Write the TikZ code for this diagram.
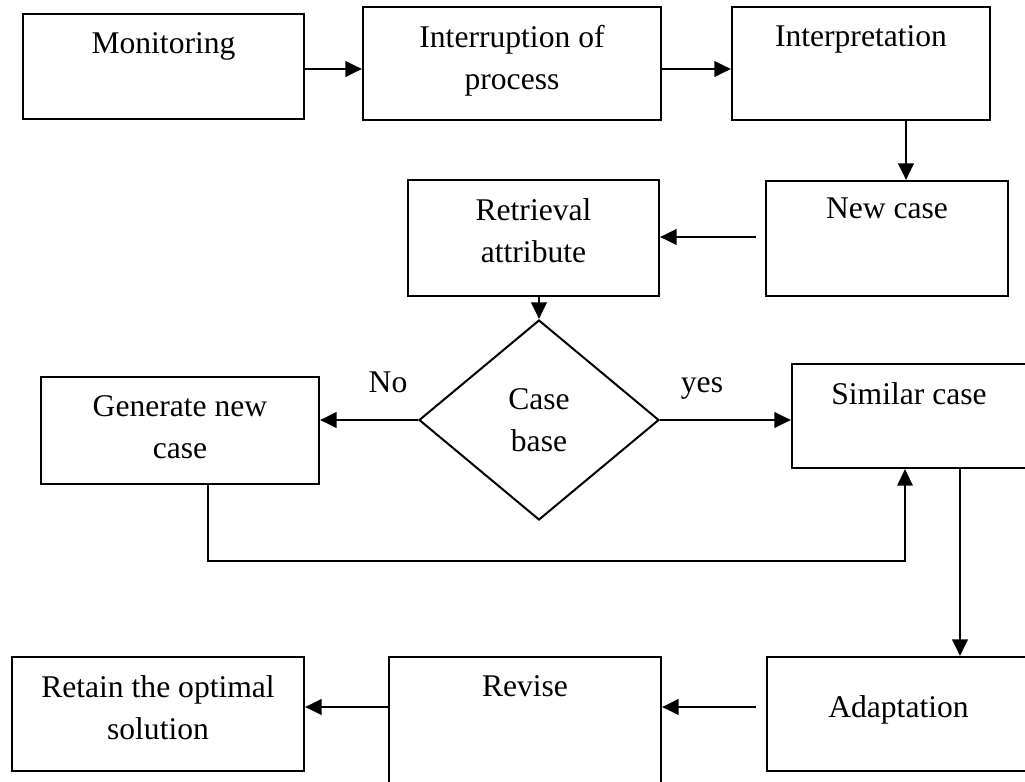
\documentclass[tikz,border=0pt]{standalone}
\usepackage{fontspec}
\setmainfont{Liberation Serif}
\usetikzlibrary{arrows.meta,shapes.geometric,calc}
\begin{document}
\begin{tikzpicture}[x=0.75pt,y=-0.75pt,
  box/.style 2 args={draw, line width=1.5pt, rectangle, inner sep=0pt,
    minimum width=#1*0.75pt, minimum height=#2*0.75pt},
  txt/.style={font=\fontsize{23.7pt}{31.5pt}\selectfont, align=center,
    inner sep=0pt, anchor=north},
  lbl/.style={font=\fontsize{23.7pt}{31.5pt}\selectfont, inner sep=0pt, anchor=base},
  decision/.style={draw, diamond, line width=1.5pt, inner sep=0pt,
    minimum width=240*0.75pt, minimum height=200*0.75pt,
    font=\fontsize{23.7pt}{31.5pt}\selectfont, align=center},
  arr/.style={line width=2.2pt, -{Triangle[length=12.5pt,width=11.5pt]}},
  thinarr/.style={line width=1.5pt, -{Triangle[length=12.5pt,width=11.5pt]}}]
\useasboundingbox (0,0) rectangle (1025,782);
\clip (0,0) rectangle (1025,782);

% top row
\node[box={281}{105}] (mon) at (163.5,66.5) {};
\node[txt] (mon-t) at ($(mon.north)+(0,19)$) {Monitoring};
\node[box={298}{113}] (intr) at (512,63.5) {};
\node[txt] (intr-t) at ($(intr.north)+(0,19)$) {Interruption of\\process};
\node[box={258}{113}] (interp) at (861,63.5) {};
\node[txt] (interp-t) at ($(interp.north)+(0,19)$) {Interpretation};

% second row
\node[box={242}{115}] (newc) at (887,238.5) {};
\node[txt] (newc-t) at ($(newc.north)+(0,18)$) {New case};
\node[box={251}{116}] (retr) at (533.5,238) {};
\node[txt] (retr-t) at ($(retr.north)+(0,19)$) {Retrieval\\attribute};

% decision row
\node[decision] (base) at (539,420) {Case\\base};
\node[box={278}{107}] (gen) at (180,430.5) {};
\node[txt] (gen-t) at ($(gen.north)+(0,19)$) {Generate new\\case};
\node[box={234}{104}] (sim) at (909,416) {};
\node[txt] (sim-t) at ($(sim.north)+(0,19)$) {Similar case};

% bottom row
\node[box={292}{114}] (ret) at (158,714) {};
\node[txt] (ret-t) at ($(ret.north)+(0,19)$) {Retain the optimal\\solution};
\node[box={272}{143}] (rev) at (525,728.5) {};
\node[txt] (rev-t) at ($(rev.north)+(0,19.5)$) {Revise};
\node[box={263}{114}] (adapt) at (898.5,714) {};
\node[txt] (adapt-t) at ($(adapt.north)+(0,39.5)$) {Adaptation};

% branch labels
\node[lbl] (no) at (388,392) {No};
\node[lbl] (yes) at (702,392) {yes};

% connectors
\coordinate (m1) at ($(mon.east)+(0,2.5)$);
\draw[arr] (m1) -- (m1 -| intr.west);
\coordinate (i1) at (intr.east |- m1);
\draw[arr] (i1) -- (i1 -| interp.west);
\coordinate (t0) at ($(newc.north)+(19,0)$);
\coordinate (t1) at (t0 |- interp.south);
\draw[arr] (t1) -- (t0);
\coordinate (n1) at ($(newc.west)+(-9,-1.5)$);
\draw[arr] (n1) -- (n1 -| retr.east);
\draw[arr] (retr.south -| base.north) -- (base.north);
\draw[arr] (base.east) -- (base.east -| sim.west);
\draw[arr] (base.west) -- (base.west -| gen.east);
\coordinate (g1) at ($(gen.south)+(28,0)$);
\coordinate (s1) at ($(sim.south west)+(114,0)$);
\draw[thinarr] (g1) -- ++(0,76) -| (s1);
\coordinate (s2) at ($(sim.south west)+(169,0)$);
\draw[arr] (s2) -- (s2 |- adapt.north);
\coordinate (a1) at ($(adapt.north west)+(-10,51)$);
\draw[arr] (a1) -- (a1 -| rev.east);
\coordinate (r1) at ($(rev.north west)+(0,51)$);
\draw[arr] (r1) -- (r1 -| ret.east);
\end{tikzpicture}
\end{document}
